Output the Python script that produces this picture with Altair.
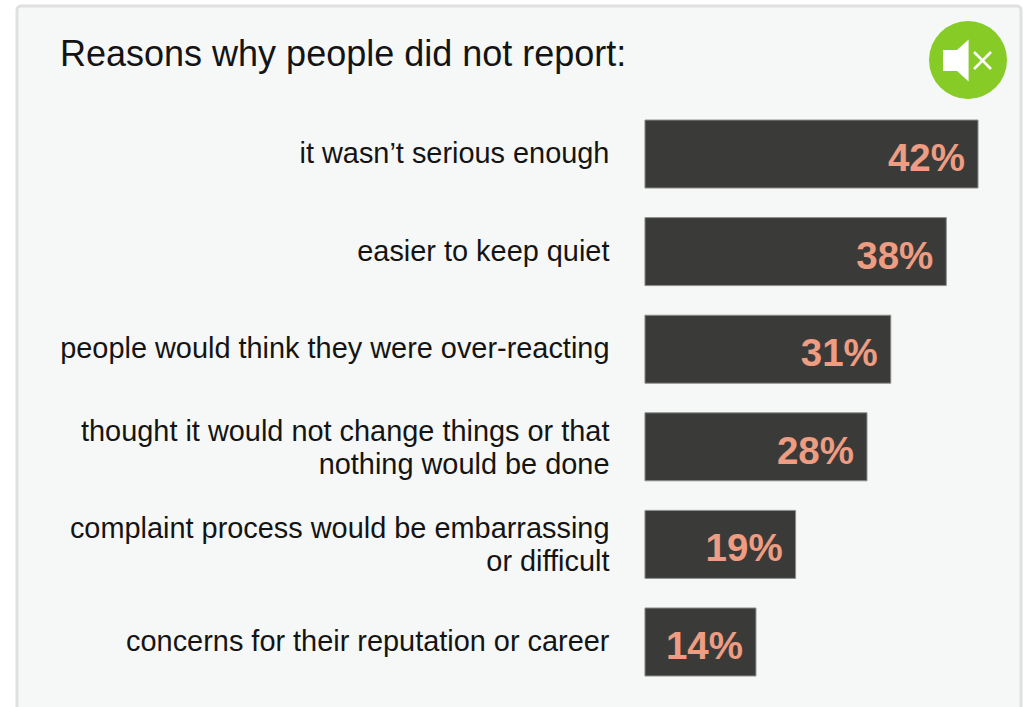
import altair as alt
import pandas as pd

reasons = [
    "it wasn’t serious enough",
    "easier to keep quiet",
    "people would think they were over-reacting",
    "thought it would not change things or that|nothing would be done",
    "complaint process would be embarrassing|or difficult",
    "concerns for their reputation or career",
]
shares = [42, 38, 31, 28, 19, 14]
heading = "Reasons why people did not report:"

FONT = "Liberation Sans"
INK = "#141414"
BAR = "#3a3b39"
BAR_EDGE = "#8f908e"
LABEL = "#ee9c82"
PANEL = "#f6f8f7"
PANEL_EDGE = "#dfe0e0"
GREEN = "#86cb26"

df = pd.DataFrame({"reason": reasons, "share": shares})
df["share_text"] = df["share"].astype(str) + "%"

x_scale = alt.Scale(domain=[-81.33, 48.05], range=[0, 1026], nice=False, zero=False)
y_scale = alt.Scale(domain=reasons, range=[120, 676], paddingInner=0.303, paddingOuter=0)

x_enc = alt.X("share:Q", scale=x_scale, axis=None)
y_enc = alt.Y("reason:N", scale=y_scale, axis=None, sort=None)

one_row = alt.Chart(pd.DataFrame({"k": [0]}))

# Card behind the chart, running off the bottom edge
panel = one_row.mark_rect(fill=PANEL, stroke=PANEL_EDGE, strokeWidth=3, cornerRadius=4).encode(
    x=alt.value(17), x2=alt.value(1021), y=alt.value(6), y2=alt.value(730)
)

bars = alt.Chart(df).mark_bar(color=BAR, stroke=BAR_EDGE, strokeWidth=1).encode(
    x=alt.X("zero:Q", scale=x_scale, axis=None),
    x2="share:Q",
    y=y_enc,
).transform_calculate(zero="0")

values = alt.Chart(df).mark_text(
    align="right", baseline="middle", dx=-13, dy=5, font=FONT, fontSize=38.5,
    fontWeight="bold", color=LABEL,
).encode(x=x_enc, y=y_enc, text="share_text:N")

# Category names sit left of the zero line; wrapped ones are lifted to centre both lines
name_style = dict(
    align="right", baseline="middle", font=FONT, fontSize=28.9,
    color=INK, lineBreak="|", lineHeight=33,
)
names_single = alt.Chart(df).transform_filter(
    "indexof(datum.reason, '|') < 0"
).mark_text(dx=-35.5, **name_style).encode(
    x=alt.datum(0, scale=x_scale), y=y_enc, text="reason:N"
)
names_wrapped = alt.Chart(df).transform_filter(
    "indexof(datum.reason, '|') >= 0"
).mark_text(dx=-35.5, dy=-15, **name_style).encode(
    x=alt.datum(0, scale=x_scale), y=y_enc, text="reason:N"
)

# Muted-speaker badge
badge = one_row.mark_point(filled=True, shape="circle", size=6084, color=GREEN, opacity=1).encode(
    x=alt.value(968), y=alt.value(60)
)
speaker = one_row.mark_point(
    filled=True, opacity=1, color="white", size=1764,
    shape="M-0.62,-0.5 L0.05,-0.5 L0.6,-1 L0.6,1 L0.05,0.5 L-0.62,0.5 Z",
).encode(x=alt.value(956), y=alt.value(60.5))
cross_a = one_row.mark_rule(color="white", strokeWidth=2.5).encode(
    x=alt.value(974), x2=alt.value(991), y=alt.value(52), y2=alt.value(69)
)
cross_b = one_row.mark_rule(color="white", strokeWidth=2.5).encode(
    x=alt.value(991), x2=alt.value(974), y=alt.value(52), y2=alt.value(69)
)

chart = alt.layer(
    panel, bars, values, names_single, names_wrapped, badge, speaker, cross_a, cross_b
).properties(
    width=1026,
    height=707,
    padding=0,
    autosize=alt.AutoSizeParams(type="none"),
    background="white",
    title=alt.TitleParams(
        heading, anchor="start", frame="group", dx=60, dy=91, offset=0,
        baseline="middle", font=FONT, fontSize=36, fontWeight="normal", color=INK,
    ),
).configure_view(stroke=None)

chart.save("out.html", embed_options={"renderer": "svg", "actions": False})
